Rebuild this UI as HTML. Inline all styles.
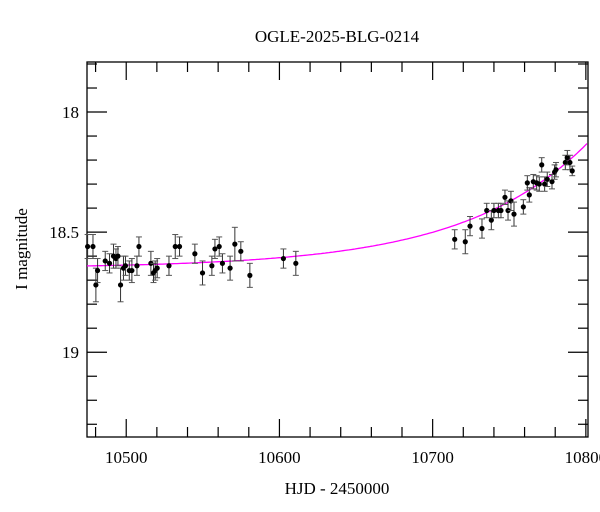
<!DOCTYPE html>
<html><head><meta charset="utf-8"><style>
html,body{margin:0;padding:0;background:#fff;}
svg{display:block;font-family:"Liberation Serif",serif;}
</style></head><body>
<svg id="chart" width="600" height="512" viewBox="0 0 600 512">
<text x="337" y="42" text-anchor="middle" font-size="17">OGLE-2025-BLG-0214</text>
<text x="337" y="494" text-anchor="middle" font-size="17">HJD - 2450000</text>
<text transform="translate(27,249) rotate(-90)" text-anchor="middle" font-size="17">I magnitude</text>
<g id="axes"></g>
<g id="plot"></g>
</svg>
<script>
const days=[10474.8,10478.3,10480.2,10481.3,10486.3,10489.1,10491.7,10493.3,10494.6,10496.3,10498.2,10499.5,10502,10503.7,10507,10508.3,10516.1,10517.8,10518.9,10520.2,10527.9,10532,10534.8,10544.8,10549.8,10555.9,10557.9,10560.7,10562.8,10567.8,10570.9,10574.8,10580.7,10602.6,10610.7,
10714.4,10721.3,10724.4,10732.2,10735.3,10738.3,10740,10742.9,10744.6,10747.2,10749.2,10751.1,10753.1,10759.2,10763.1,10761.8,10765.7,10767.9,10769.6,10771.2,10773.1,10774.8,10777.9,10779.6,10780.5,10786.6,10787.9,10789.6,10791.1];
const mags=[18.56,18.56,18.72,18.66,18.62,18.63,18.60,18.61,18.60,18.72,18.65,18.64,18.66,18.66,18.64,18.56,18.63,18.67,18.66,18.65,18.64,18.56,18.56,18.59,18.67,18.64,18.57,18.56,18.63,18.65,18.55,18.58,18.68,18.61,18.63,
18.53,18.54,18.475,18.485,18.41,18.45,18.41,18.41,18.41,18.355,18.41,18.37,18.425,18.395,18.345,18.295,18.29,18.295,18.30,18.22,18.30,18.28,18.29,18.25,18.24,18.21,18.19,18.21,18.245];
const errs=[0.05,0.05,0.07,0.05,0.04,0.04,0.05,0.04,0.04,0.07,0.05,0.04,0.04,0.05,0.04,0.04,0.05,0.04,0.04,0.04,0.04,0.05,0.04,0.04,0.05,0.04,0.04,0.04,0.04,0.05,0.07,0.04,0.05,0.04,0.05,
0.04,0.05,0.04,0.04,0.03,0.04,0.03,0.03,0.03,0.03,0.04,0.04,0.05,0.03,0.03,0.03,0.03,0.03,0.03,0.03,0.03,0.03,0.03,0.03,0.03,0.03,0.03,0.03,0.02];
const xTickLabels=["10500","10600","10700","10800"];
const yTickLabels=["18","18.5","19"];
const modelBase=18.65, modelAmp=0.52, modelT0=10801, modelTau=81;

const L=87,R=588,T=62,B=437;
const xMin=10474.4,xMax=10801.4,yMin=17.7917,yMax=19.353;
const xs=d=>L+(d-xMin)/(xMax-xMin)*(R-L);
const ys=m=>T+(m-yMin)/(yMax-yMin)*(B-T);
const NS="http://www.w3.org/2000/svg";
function mk(tag,attrs,parent){const e=document.createElementNS(NS,tag);for(const k in attrs)e.setAttribute(k,attrs[k]);parent.appendChild(e);return e;}
const axes=document.getElementById('axes'),plot=document.getElementById('plot');
const frame=mk('rect',{x:L,y:T,width:R-L,height:B-T,fill:'none',stroke:'#000','stroke-width':1.3},axes);


// x ticks
for(let d=10480;d<=10800;d+=20){
  const x=xs(d);if(x<L||x>R)continue;
  const major=(d%100===0),len=major?18:10;
  const t1=mk('line',{x1:x,y1:B,x2:x,y2:B-len,stroke:'#000','stroke-width':1.2},axes);
  
  
  const t2=mk('line',{x1:x,y1:T,x2:x,y2:T+len,stroke:'#000','stroke-width':1.2},axes);
  
  
}
xTickLabels.forEach(s=>{
  const t=mk('text',{x:xs(+s),y:463,'text-anchor':'middle','font-size':17},axes);t.textContent=s;
  
  
});
// y ticks
for(let i=18;i<=193;i++){
  const m=i/10;const y=ys(m);if(y<T||y>B)continue;
  const major=(i%5===0),len=major?20:10;
  const t1=mk('line',{x1:L,y1:y,x2:L+len,y2:y,stroke:'#000','stroke-width':1.2},axes);
  
  
  const t2=mk('line',{x1:R,y1:y,x2:R-len,y2:y,stroke:'#000','stroke-width':1.2},axes);
  
  
}
yTickLabels.forEach(s=>{
  const t=mk('text',{x:79,y:ys(+s)+6,'text-anchor':'end','font-size':17},axes);t.textContent=s;
  
  
});
// model curve
let pts=[];
for(let x=L;x<=R;x+=2){const d=xMin+(x-L)/(R-L)*(xMax-xMin);const m=modelBase-modelAmp*Math.exp((d-modelT0)/modelTau);pts.push(x.toFixed(1)+','+ys(m).toFixed(1));}
const curve=mk('polyline',{points:pts.join(' '),fill:'none',stroke:'#ff00ff','stroke-width':1.3},plot);


// data points
days.forEach((d,i)=>{
  const x=xs(d),y=ys(mags[i]),y1=ys(mags[i]-errs[i]),y2=ys(mags[i]+errs[i]);
  const g=mk('g',{},plot);
  
  
  mk('line',{x1:x,y1:y1,x2:x,y2:y2,stroke:'#333','stroke-width':1},g);
  mk('line',{x1:x-3,y1:y1,x2:x+3,y2:y1,stroke:'#555','stroke-width':1},g);
  mk('line',{x1:x-3,y1:y2,x2:x+3,y2:y2,stroke:'#555','stroke-width':1},g);
  mk('circle',{cx:x,cy:y,r:2.6,fill:'#000'},g);
});
</script>
</body></html>
